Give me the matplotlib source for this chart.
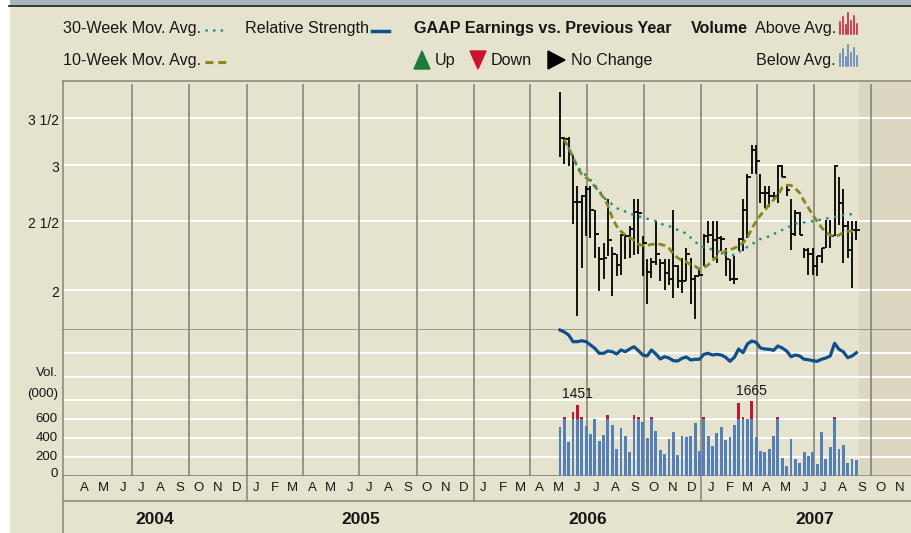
import numpy as np
import pandas as pd
import matplotlib
matplotlib.use('Agg')
import matplotlib.pyplot as plt
from matplotlib.lines import Line2D
from matplotlib.patches import Rectangle, Polygon
from matplotlib.ticker import NullLocator
import matplotlib.transforms as mtransforms

plt.rcParams['font.family'] = ['Liberation Sans', 'DejaVu Sans']

# ---------------- data ----------------
first_week = '2006-05-19'
n_weeks = 69
x_start, x_end = '2004-03-12', '2007-12-31'

high = [3.80, 3.29, 3.29, 3.10, 2.80, 2.72, 2.80, 2.80, 2.59, 2.30,
        2.33, 2.69, 2.30, 2.25, 2.40, 2.40, 2.46, 2.69, 2.69, 2.38,
        2.21, 2.22, 2.50, 2.21, 2.21, 2.21, 2.59, 2.17, 2.22, 2.29,
        2.22, 2.10, 2.14, 2.40, 2.50, 2.50, 2.50, 2.38, 2.29, 2.21,
        2.23, 2.37, 2.69, 2.91, 3.20, 3.20, 2.91, 2.80, 2.80, 2.75,
        3.00, 3.00, 2.81, 2.69, 2.59, 2.58, 2.29, 2.29, 2.29, 2.23,
        2.29, 2.51, 2.51, 3.00, 2.89, 2.78, 2.50, 2.50, 2.50]
low = [3.08, 3.01, 2.99, 2.48, 1.84, 2.15, 2.38, 2.37, 2.22, 1.99,
       2.07, 2.23, 1.96, 2.09, 2.10, 2.21, 2.22, 2.24, 2.25, 2.09,
       1.91, 2.08, 2.17, 2.06, 2.00, 2.03, 1.95, 2.01, 1.98, 2.06,
       1.91, 1.82, 2.09, 2.16, 2.33, 2.22, 2.18, 2.27, 2.09, 2.06,
       2.04, 2.27, 2.27, 2.37, 2.91, 2.91, 2.65, 2.61, 2.62, 2.69,
       2.65, 2.89, 2.71, 2.28, 2.38, 2.39, 2.22, 2.10, 2.10, 2.09,
       2.18, 2.29, 2.29, 2.38, 2.47, 2.18, 2.22, 2.01, 2.35]
close = [3.28, 3.26, 3.13, 2.66, 2.66, 2.71, 2.78, 2.59, 2.40, 2.21,
         2.22, 2.35, 2.25, 2.17, 2.39, 2.38, 2.44, 2.58, 2.57, 2.33,
         2.12, 2.19, 2.25, 2.18, 2.11, 2.07, 2.16, 2.06, 2.06, 2.25,
         2.07, 2.09, 2.10, 2.38, 2.39, 2.35, 2.37, 2.36, 2.21, 2.07,
         2.07, 2.36, 2.59, 2.89, 3.15, 3.04, 2.74, 2.74, 2.71, 2.71,
         2.99, 2.89, 2.77, 2.40, 2.57, 2.39, 2.28, 2.25, 2.16, 2.23,
         2.29, 2.40, 2.38, 2.99, 2.65, 2.46, 2.28, 2.43, 2.43]
# 10-week moving average (from week 2)
ma10 = [3.26, 3.17, 3.08, 2.98, 2.91, 2.88, 2.85, 2.80, 2.75, 2.70,
        2.63, 2.53, 2.46, 2.42, 2.39, 2.37, 2.35, 2.32, 2.31, 2.31,
        2.32, 2.32, 2.32, 2.31, 2.29, 2.25, 2.22, 2.20, 2.19, 2.17,
        2.16, 2.14, 2.15, 2.17, 2.20, 2.23, 2.25, 2.27, 2.28, 2.29,
        2.31, 2.33, 2.37, 2.44, 2.50, 2.55, 2.59, 2.64, 2.68, 2.72,
        2.79, 2.81, 2.81, 2.78, 2.74, 2.67, 2.61, 2.55, 2.50, 2.45,
        2.41, 2.39, 2.38, 2.39, 2.41, 2.42, 2.42, 2.42]
# 30-week moving average (from week 3)
ma30 = [3.17, 3.08, 2.98, 2.94, 2.90, 2.86, 2.81, 2.76, 2.70,
        2.67, 2.64, 2.61, 2.59, 2.58, 2.565, 2.55, 2.54, 2.53, 2.52,
        2.51, 2.50, 2.48, 2.47, 2.46, 2.45, 2.43, 2.42, 2.40, 2.37,
        2.34, 2.31, 2.30, 2.29, 2.28, 2.27, 2.26, 2.24, 2.24, 2.24,
        2.26, 2.28, 2.30, 2.32, 2.34, 2.36, 2.37, 2.38, 2.40, 2.41,
        2.43, 2.45, 2.46, 2.48, 2.49, 2.49, 2.50, 2.50, 2.51, 2.51,
        2.52, 2.53, 2.535, 2.54, 2.55, 2.55, 2.56, 2.56]
rel_strength = [100, 98, 95, 88.3, 88.3, 89.3, 88.3, 85, 81.7, 76.7,
                76.7, 79, 78.3, 76, 80, 78.3, 81, 83.3, 79.3, 75,
                74, 80, 76, 71, 73.3, 72, 69.3, 69, 71.7, 73,
                70, 70.7, 70.7, 75.7, 76.7, 75, 75.7, 75, 72.7, 68.7,
                72.7, 81, 77.3, 86, 89, 87.7, 82, 81, 80.7, 79.7,
                84, 82, 79, 73.3, 75, 74, 70.7, 70.3, 69.3, 68.7,
                70.7, 72, 74, 86.7, 80.7, 78.3, 72.3, 74, 77.3]
volume = [516, 700, 359, 1030, 1451, 720, 523, 436, 600, 366,
          429, 846, 534, 286, 499, 419, 255, 846, 720, 565,
          401, 720, 474, 272, 227, 384, 457, 223, 422, 412,
          415, 551, 262, 720, 415, 314, 453, 516, 377, 412,
          537, 1565, 720, 600, 1665, 412, 265, 251, 283, 419,
          720, 192, 108, 387, 174, 140, 251, 209, 251, 126,
          464, 178, 303, 720, 279, 324, 140, 181, 167]
labelled_volumes = [1451, 1665]
vol_avg = 600
over_scale = 0.17

price_ticks = [2.0, 2.5, 3.0, 3.5]
price_tick_labels = ['2', '2 1/2', '3', '3 1/2']
vol_ticks = [0, 200, 400, 600]
vol_grid = [200, 400, 600, 800, 1035, 1285]
month_letters = ['J', 'F', 'M', 'A', 'M', 'J', 'J', 'A', 'S', 'O', 'N', 'D']
years = [2004, 2005, 2006, 2007]

# ---------------- style ----------------
BG = '#E5E3CE'
SHADE = '#DCD7C1'
FRAME = '#8E8C7C'
VGRID = '#7F7D6E'
TEAL = '#1E8E8E'
OLIVE = '#87871E'
RSBLUE = '#0E4F8C'
VBLUE = '#5580B7'
VRED = '#C8142E'
TXT = '#161616'
LEG_FS = 11.6

W, H = 911, 533
fig = plt.figure(figsize=(W / 100, H / 100), dpi=100)
fig.patch.set_facecolor(BG)


def fx(px):
    return px / W


def fy(py):
    return 1 - py / H


# header band & left white strip
fig.add_artist(Rectangle((0, fy(5)), 1, 5 / H, transform=fig.transFigure,
                         color='#A6B4BE', lw=0, zorder=0))
fig.add_artist(Line2D([fx(9), 1], [fy(5.8), fy(5.8)], color='#2A2A2A', lw=1.3))
fig.add_artist(Rectangle((0, 0), 9.5 / W, 1, transform=fig.transFigure,
                         color='white', lw=0, zorder=1))

dates = pd.date_range(first_week, periods=n_weeks, freq='7D')
xs, xe = pd.Timestamp(x_start), pd.Timestamp(x_end)
left, right = 63, 928
axw = (right - left) / W

ax_p = fig.add_axes([fx(left), fy(330), axw, (330 - 81) / H])
ax_v = fig.add_axes([fx(left), fy(476), axw, (476 - 330) / H])
ax_x = fig.add_axes([fx(left), fy(533), axw, (533 - 476) / H])

for a in (ax_p, ax_v, ax_x):
    a.set_facecolor(BG)
    a.set_xlim(xs, xe)
    a.xaxis.set_major_locator(NullLocator())
    a.xaxis.set_minor_locator(NullLocator())
    a.yaxis.set_major_locator(NullLocator())
    a.yaxis.set_minor_locator(NullLocator())
    for s in a.spines.values():
        s.set_color(FRAME)
        s.set_linewidth(1.2)
    a.spines['right'].set_visible(False)

ax_p.set_yscale('log')
ax_p.set_ylim(1.756, 3.942)
ax_p.yaxis.set_major_locator(NullLocator())
ax_p.yaxis.set_minor_locator(NullLocator())
ax_v.set_ylim(0, 1529)
ax_v.spines['top'].set_visible(False)
ax_x.set_ylim(0, 1)
ax_x.spines['top'].set_visible(False)
ax_x.spines['bottom'].set_visible(False)

shade_start = dates[-1] + pd.Timedelta(days=4)
for a in (ax_p, ax_v):
    a.axvspan(shade_start, xe, color=SHADE, lw=0, zorder=0.5)

# white horizontal grid
for t in price_ticks:
    ax_p.axhline(t, color='white', lw=1.4, zorder=1)
for g in vol_grid:
    ax_v.axhline(g, color='white', lw=1.4, zorder=1)

# quarterly vertical lines
quarters = pd.date_range('2004-07-01', '2007-10-01', freq='QS')
for q in quarters:
    ax_p.axvline(q, ymin=0, ymax=(330 - 85) / (330 - 81), color=VGRID, lw=1.1, zorder=1.5)
    ax_v.axvline(q, color=VGRID, lw=1.1, zorder=1.5)

# price bars
ax_p.vlines(dates, low, high, color='black', lw=1.3, zorder=3)
ax_p.hlines(close, dates, dates + pd.Timedelta(days=6), color='black', lw=1.3, zorder=3)

# moving averages
l10, = ax_p.plot(dates[1:], ma10, color=OLIVE, lw=2.0, zorder=4)
l10.set_dashes([2.5, 1.4])
ax_p.plot(dates[2:], ma30, color=TEAL, lw=2.0, zorder=4,
          linestyle=(0, (0.05, 2.8)), dash_capstyle='round')

# volume bars
vol = np.array(volume, dtype=float)
blue_h = np.minimum(vol, vol_avg)
red_h = np.where(vol > vol_avg, (vol - vol_avg) * over_scale, 0)
bw = pd.Timedelta(days=4.6)
ax_v.bar(dates, blue_h, width=bw, color=VBLUE, lw=0, zorder=3)
ax_v.bar(dates, red_h, bottom=blue_h, width=bw, color=VRED, lw=0, zorder=3)
ax_v.plot([xs, dates[0] - pd.Timedelta(days=4)], [0, 0], color=VBLUE, lw=1.2,
          linestyle=(0, (1, 1)), zorder=3, clip_on=False)
for v in labelled_volumes:
    i = volume.index(v)
    ax_v.annotate(str(v), (dates[i], blue_h[i] + red_h[i]), xytext=(0, 2.5),
                  textcoords='offset points', ha='center', va='bottom',
                  fontsize=10, color=TXT, zorder=5)

# relative strength
ax_rs = ax_v.twinx()
ax_rs.set_ylim(-46, 100)
ax_rs.set_xlim(xs, xe)
ax_rs.yaxis.set_major_locator(NullLocator())
for s in ax_rs.spines.values():
    s.set_visible(False)
ax_rs.plot(dates, rel_strength, color=RSBLUE, lw=2.3, zorder=5, clip_on=False,
           solid_joinstyle='round')

# price labels
tp = mtransforms.offset_copy(ax_p.get_yaxis_transform(), fig=fig, x=0, y=-3, units='dots')
for t, lab in zip(price_ticks, price_tick_labels):
    ax_p.text(-0.0045, t, lab, transform=tp, ha='right', va='center', fontsize=10, color=TXT)

tv = mtransforms.offset_copy(ax_v.get_yaxis_transform(), fig=fig, x=0, y=0, units='dots')
for t in vol_ticks:
    yy = t if t > 0 else 20
    ax_v.text(-0.006, yy, str(t), transform=tv, ha='right', va='center', fontsize=9.5, color=TXT)
ax_v.text(-0.006, 0.705, 'Vol.', transform=ax_v.transAxes, ha='right', va='center', fontsize=9.5, color=TXT)
ax_v.text(-0.006, 0.562, '(000)', transform=ax_v.transAxes, ha='right', va='center', fontsize=9.5, color=TXT)

# month / year rows
row_split = (533 - 501) / (533 - 476)
ax_x.axhline(row_split, color=FRAME, lw=1.2)
months = pd.date_range('2004-04-01', '2007-12-01', freq='MS')
for m in months:
    mid = m + pd.Timedelta(days=15)
    if mid < xe - pd.Timedelta(days=20):
        ax_x.text(mid, (533 - 488) / (533 - 476), month_letters[m.month - 1], ha='center',
                  va='center', fontsize=9.5, color=TXT)
for y in years[1:]:
    ax_x.axvline(pd.Timestamp(f'{y}-01-01'), ymin=row_split, ymax=1, color=FRAME, lw=1.2)
for y in years:
    a0 = max(pd.Timestamp(f'{y}-01-01'), xs)
    a1 = min(pd.Timestamp(f'{y + 1}-01-01'), xe)
    ax_x.text(a0 + (a1 - a0) / 2, (533 - 519) / (533 - 476), str(y), ha='center', va='center',
              fontsize=12.5, fontweight='bold', color=TXT)

# ---------------- legend ----------------
r1, r2 = 28.5, 60.5
fig.text(fx(63), fy(r1), '30-Week Mov. Avg.', ha='left', va='center', fontsize=LEG_FS, color=TXT)
fig.add_artist(Line2D([fx(206), fx(226)], [fy(r1 + 1)] * 2, color=TEAL, lw=2,
                      linestyle=(0, (0.05, 2.7)), dash_capstyle='round'))
fig.text(fx(245), fy(r1), 'Relative Strength', ha='left', va='center', fontsize=LEG_FS, color=TXT)
fig.add_artist(Line2D([fx(372), fx(389)], [fy(r1 + 2)] * 2, color=RSBLUE, lw=2.5))
fig.text(fx(414), fy(r1), 'GAAP Earnings vs. Previous Year', ha='left', va='center',
         fontsize=LEG_FS, fontweight='bold', color=TXT)
fig.text(fx(691), fy(r1), 'Volume', ha='left', va='center', fontsize=LEG_FS,
         fontweight='bold', color=TXT)
fig.text(fx(836), fy(r1), 'Above Avg.', ha='right', va='center', fontsize=LEG_FS, color=TXT)
fig.text(fx(63), fy(r2), '10-Week Mov. Avg.', ha='left', va='center', fontsize=LEG_FS, color=TXT)
l = Line2D([fx(205), fx(227)], [fy(r2 + 1)] * 2, color=OLIVE, lw=2.2)
l.set_dashes([2.6, 1.6])
fig.add_artist(l)
fig.add_artist(Polygon([(fx(414), fy(69)), (fx(430), fy(69)), (fx(422), fy(51))],
                       closed=True, color='#1D7A3A', transform=fig.transFigure))
fig.text(fx(435), fy(r2), 'Up', ha='left', va='center', fontsize=LEG_FS, color=TXT)
fig.add_artist(Polygon([(fx(470), fy(51)), (fx(486), fy(51)), (fx(478), fy(69))],
                       closed=True, color=VRED, transform=fig.transFigure))
fig.text(fx(491), fy(r2), 'Down', ha='left', va='center', fontsize=LEG_FS, color=TXT)
fig.add_artist(Polygon([(fx(548), fy(51)), (fx(548), fy(69)), (fx(565), fy(60))],
                       closed=True, color='black', transform=fig.transFigure))
fig.text(fx(571), fy(r2), 'No Change', ha='left', va='center', fontsize=LEG_FS, color=TXT)
fig.text(fx(836), fy(r2), 'Below Avg.', ha='right', va='center', fontsize=LEG_FS, color=TXT)

icon_heights = [12, 17, 9, 21, 13, 18, 10]
for k, hgt in enumerate(icon_heights):
    xk = fx(840 + k * 2.8)
    fig.add_artist(Line2D([xk, xk], [fy(34), fy(34 - hgt)], color=VRED, lw=1.1))
    fig.add_artist(Line2D([xk, xk], [fy(66), fy(66 - hgt)], color=VBLUE, lw=1.1))

fig.savefig('out.png', dpi=100, facecolor=fig.get_facecolor())
